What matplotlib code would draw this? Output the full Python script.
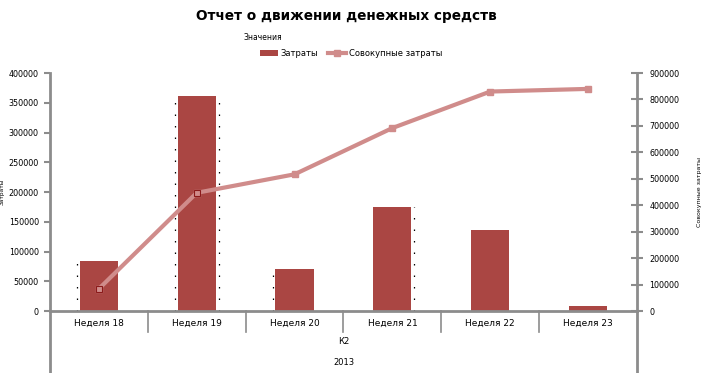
import numpy as np
import matplotlib.pyplot as plt
from matplotlib.lines import Line2D
from matplotlib.patches import Patch
from matplotlib.transforms import blended_transform_factory

plt.rcParams["font.family"] = "DejaVu Sans"

weeks = ["Неделя 18", "Неделя 19", "Неделя 20", "Неделя 21", "Неделя 22", "Неделя 23"]
costs = [84000, 361000, 70000, 175000, 137000, 8000]
cumulative = [84000, 447000, 517000, 692000, 830000, 840000]
quarter = "К2"
year = "2013"

bar_color = "#AA4643"
line_color = "#D08C8B"
axis_color = "#8C8C8C"

fig = plt.figure(figsize=(7.02, 3.73), dpi=100)
ax = fig.add_axes([0.0712, 0.1662, 0.8362, 0.638])
ax2 = ax.twinx()

x = np.arange(len(weeks))
ax.bar(x, costs, width=0.39, color=bar_color, zorder=2)

# small dotted artefacts along some bar edges
for i, side in [(0, -1), (1, -1), (1, 1), (2, -1), (3, 1)]:
    ax.plot([x[i] + side * 0.225] * 2, [0, costs[i]], color="black",
            lw=0.9, ls=(0, (1.2, 8)), zorder=1)

ax2.plot(x, cumulative, color=line_color, lw=3, marker="s", markersize=4,
         markerfacecolor=line_color, markeredgecolor=line_color, zorder=3)
ax2.plot(x[:2], cumulative[:2], ls="none", marker="s", markersize=4.5,
         markerfacecolor="none", markeredgecolor="#8B1A1A", markeredgewidth=0.8, zorder=4)

ax.set_xlim(-0.5, 5.5)
ax.set_ylim(0, 400000)
ax2.set_ylim(0, 900000)
ax.set_yticks(np.arange(0, 400001, 50000))
ax2.set_yticks(np.arange(0, 900001, 100000))

for a in (ax, ax2):
    for s in a.spines.values():
        s.set_visible(False)
    a.tick_params(labelsize=5.8, colors="black", width=1.5)

ax.spines["left"].set_visible(True)
ax.spines["left"].set_color(axis_color)
ax.spines["left"].set_linewidth(2)
ax.spines["bottom"].set_visible(True)
ax.spines["bottom"].set_color(axis_color)
ax.spines["bottom"].set_linewidth(2)
ax2.spines["right"].set_visible(True)
ax2.spines["right"].set_color(axis_color)
ax2.spines["right"].set_linewidth(2)

ax.tick_params(axis="y", direction="out", length=4, color=axis_color, pad=4)
ax2.tick_params(axis="y", direction="inout", length=8, color=axis_color, pad=5)

ax.set_xticks(x)
ax.set_xticklabels(weeks, fontsize=6.5)
ax.tick_params(axis="x", length=0, pad=6)

# category separators and outer frame lines under the axis
trans = blended_transform_factory(ax.transData, ax.transAxes)
for b in np.arange(0.5, 5.5, 1.0):
    ax.plot([b, b], [0, -0.09], color=axis_color, lw=1.2, transform=trans, clip_on=False)
for b in (-0.5, 5.5):
    ax.plot([b, b], [0, -0.27], color=axis_color, lw=2, transform=trans, clip_on=False)

ax.text(2.5, -0.13, quarter, transform=trans, ha="center", va="center", fontsize=6)
ax.text(2.5, -0.215, year, transform=trans, ha="center", va="center", fontsize=6)

ax.set_ylabel("Затраты", fontsize=4.2)
ax.yaxis.set_label_coords(-0.0765, 0.5)
ax2.set_ylabel("Совокупные затраты", fontsize=4.5, rotation=90)
ax2.yaxis.set_label_coords(1.103, 0.5)

fig.text(0.493, 0.958, "Отчет о движении денежных средств", ha="center", va="center",
         fontsize=9.8, fontweight="bold")
fig.text(0.347, 0.900, "Значения", ha="left", va="center", fontsize=5.5)

handles = [Patch(facecolor=bar_color, label="Затраты"),
           Line2D([0], [0], color=line_color, lw=3, marker="s", markersize=4,
                  label="Совокупные затраты")]
fig.legend(handles=handles, loc="center", bbox_to_anchor=(0.5, 0.857), ncol=2,
           frameon=False, fontsize=6, handlelength=2.2, handleheight=0.6,
           columnspacing=1.2, handletextpad=0.3)

fig.savefig("out.png", dpi=100)
